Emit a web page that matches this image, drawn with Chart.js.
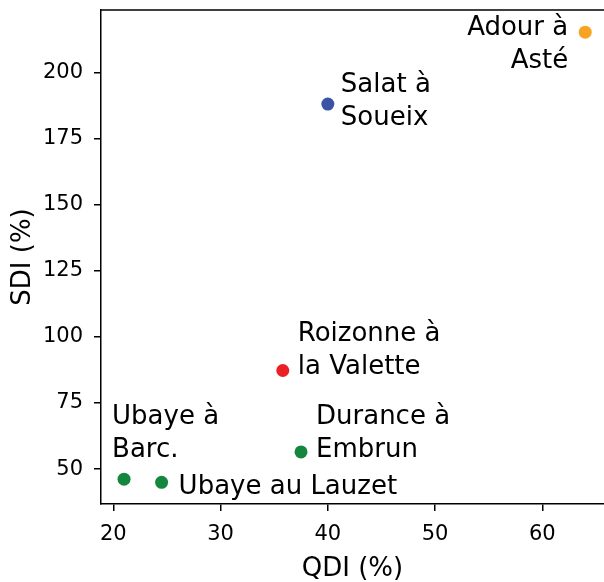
<!DOCTYPE html>
<html>
<head>
<meta charset="utf-8">
<script src="https://cdn.jsdelivr.net/npm/chart.js@4"></script>
<style>
  body { margin: 0; background: #fff; }
  #wrap { width: 604px; height: 582px; }
</style>
</head>
<body>
<div id="wrap"><canvas id="scatterChart"></canvas></div>
<script>
const STATIONS = ['Adour à\nAsté', 'Salat à\nSoueix', 'Roizonne à\nla Valette', 'Durance à\nEmbrun', 'Ubaye à\nBarc.', 'Ubaye au Lauzet'];
const QDI = [64.0, 40.0, 35.8, 37.5, 21.0, 24.5];
const SDI = [215.3, 188.1, 87.3, 56.5, 46.2, 45.0];
const X_TICKS = [20, 30, 40, 50, 60];
const Y_TICKS = [50, 75, 100, 125, 150, 175, 200];

const COLORS = ['rgb(246,164,33)', 'rgb(58,83,166)', 'rgb(234,32,38)', 'rgb(20,134,62)', 'rgb(20,134,62)', 'rgb(20,134,62)'];
// label placement relative to each point: [dx, dy of first line, align]
const LABEL_POS = [[-17, -4, 'right'], [13, -19, 'left'], [15, -36, 'left'], [15, -35, 'left'], [-12, -62, 'left'], [17, 5, 'left']];

const FONT = 'DejaVu Sans';

const pointLabels = {
  id: 'pointLabels',
  afterDatasetsDraw(chart) {
    const ctx = chart.ctx;
    const meta = chart.getDatasetMeta(0);
    ctx.save();
    ctx.font = '26px "' + FONT + '"';
    ctx.fillStyle = '#000';
    ctx.textBaseline = 'middle';
    meta.data.forEach((pt, i) => {
      const [dx, dy, align] = LABEL_POS[i];
      ctx.textAlign = align;
      STATIONS[i].split('\n').forEach((line, j) => {
        ctx.fillText(line, pt.x + dx, pt.y + dy + j * 33);
      });
    });
    // top spine
    const a = chart.chartArea;
    ctx.strokeStyle = '#000';
    ctx.lineWidth = 1.5;
    ctx.beginPath();
    ctx.moveTo(a.left, a.top);
    ctx.lineTo(a.right, a.top);
    ctx.stroke();
    ctx.restore();
  }
};

new Chart(document.getElementById('scatterChart'), {
  type: 'scatter',
  data: {
    datasets: [{
      data: QDI.map((x, i) => ({ x: x, y: SDI[i] })),
      backgroundColor: COLORS,
      borderWidth: 0,
      pointRadius: 6.5,
      pointHoverRadius: 6.5
    }]
  },
  options: {
    responsive: true,
    maintainAspectRatio: false,
    animation: false,
    layout: { autoPadding: false, padding: { left: 6, top: 10, right: 0, bottom: 0 } },
    plugins: { legend: { display: false }, tooltip: { enabled: false } },
    scales: {
      x: {
        type: 'linear',
        min: 18.85,
        max: 65.75,
        afterBuildTicks: (s) => { s.ticks = X_TICKS.map(v => ({ value: v })); },
        afterFit: (s) => { s.height = 78; s.paddingLeft = 0; s.paddingRight = 0; },
        grid: { drawOnChartArea: false, drawTicks: true, tickLength: 7, color: '#000', lineWidth: 1.5 },
        border: { display: true, color: '#000', width: 1.5 },
        ticks: { color: '#000', font: { family: FONT, size: 21 }, padding: 11, maxRotation: 0 },
        title: { display: true, text: 'QDI (%)', color: '#000', font: { family: FONT, size: 26, lineHeight: 1 }, padding: { top: 0, bottom: 0 } }
      },
      y: {
        type: 'linear',
        min: 36.8,
        max: 223.7,
        afterBuildTicks: (s) => { s.ticks = Y_TICKS.map(v => ({ value: v })); },
        afterFit: (s) => { s.width = 95; s.paddingTop = 0; s.paddingBottom = 0; },
        grid: { drawOnChartArea: false, drawTicks: true, tickLength: 7, color: '#000', lineWidth: 1.5 },
        border: { display: true, color: '#000', width: 1.5 },
        ticks: { color: '#000', font: { family: FONT, size: 21 }, padding: 11 },
        title: { display: true, text: 'SDI (%)', color: '#000', font: { family: FONT, size: 26 }, padding: { top: 2, bottom: 0 } }
      }
    }
  },
  plugins: [pointLabels]
});
</script>
</body>
</html>
